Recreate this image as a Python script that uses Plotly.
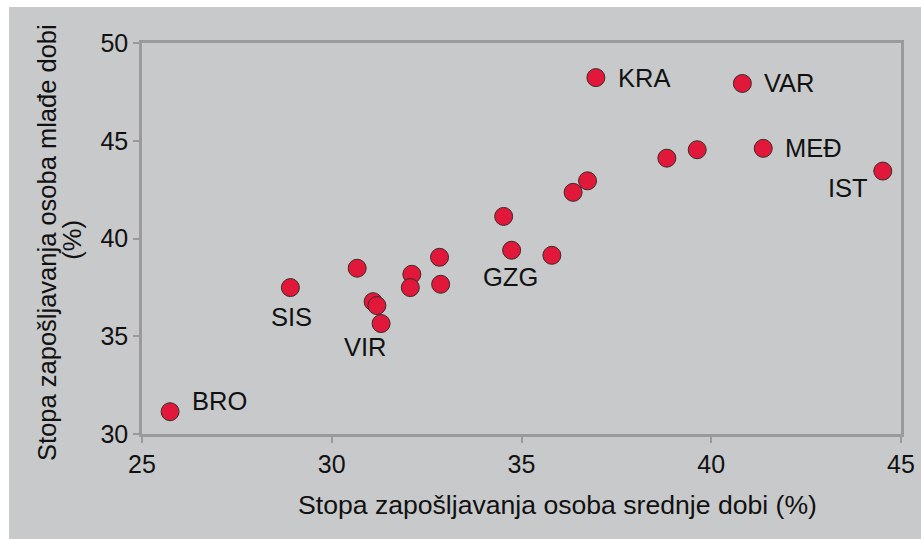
import plotly.graph_objects as go

# Data: (middle-age employment rate, youth employment rate)
x_vals = [25.74, 28.91, 30.67, 31.09, 31.19, 31.30, 32.11, 32.07, 32.84, 32.87,
          34.53, 34.74, 35.80, 36.36, 36.74, 36.96, 38.83, 39.63, 40.82, 41.37, 44.52]
y_vals = [31.14, 37.49, 38.48, 36.77, 36.57, 35.65, 38.17, 37.49, 39.04, 37.66,
          41.13, 39.40, 39.14, 42.36, 42.95, 48.23, 44.11, 44.54, 47.93, 44.61, 43.45]
labels = ["BRO", "SIS", "", "", "", "VIR", "", "", "", "",
          "", "GZG", "", "", "", "KRA", "", "", "VAR", "MEĐ", "IST"]

x_ticks = [25, 30, 35, 40, 45]
y_ticks = [30, 35, 40, 45, 50]
x_title = "Stopa zapošljavanja osoba srednje dobi (%)"
y_title_1 = "Stopa zapošljavanja osoba mlađe dobi"
y_title_2 = "(%)"

BG = "#C8C9CB"
AXC = "#9A9A9A"
FONT = "Liberation Sans, Arial, sans-serif"
TXT = "#111111"

W, H = 918, 532
L, R, T, B = 133, 18.6, 36, 105
PW, PH = W - L - R, H - T - B


def fx(p):
    return (p - L) / PW


def fy(p):
    return (H - B - p) / PH


fig = go.Figure()
fig.add_trace(go.Scatter(
    x=x_vals, y=y_vals, mode="markers",
    marker=dict(size=18, color="#E2183A", line=dict(color="#3A2A2A", width=1)),
    hoverinfo="x+y", showlegend=False,
))

# label placement styles: (xanchor, yanchor, xshift, yshift)
place = {
    "BRO": ("left", "middle", 20, 11),
    "SIS": ("center", "top", 1, -13),
    "VIR": ("center", "top", -16, -7),
    "GZG": ("center", "top", -1, -11),
    "KRA": ("left", "middle", 20, 0),
    "VAR": ("left", "middle", 20, 0),
    "MEĐ": ("left", "middle", 20, 0),
    "IST": ("right", "top", -13, -1),
}
for xv, yv, lab in zip(x_vals, y_vals, labels):
    if not lab:
        continue
    xa, ya, xs, ys = place[lab]
    fig.add_annotation(x=xv, y=yv, text=lab, showarrow=False,
                       xanchor=xa, yanchor=ya, xshift=xs, yshift=ys,
                       font=dict(size=25.5, color=TXT, family=FONT))

# axis titles
fig.add_annotation(xref="paper", yref="paper", x=fx(553), y=fy(498), text=x_title,
                   showarrow=False, xanchor="center", yanchor="middle",
                   font=dict(size=26.6, color=TXT, family=FONT))
fig.add_annotation(xref="paper", yref="paper", x=fx(37), y=fy(235), text=y_title_1,
                   showarrow=False, xanchor="center", yanchor="middle", textangle=-90,
                   font=dict(size=25.5, color=TXT, family=FONT))
fig.add_annotation(xref="paper", yref="paper", x=fx(62), y=fy(233), text=y_title_2,
                   showarrow=False, xanchor="center", yanchor="middle", textangle=-90,
                   font=dict(size=25.5, color=TXT, family=FONT))

axis_common = dict(
    showgrid=False, zeroline=False, showline=True, linecolor=AXC, linewidth=2.5,
    mirror=True, ticks="outside", ticklen=6, tickcolor=AXC, tickwidth=2,
    tickfont=dict(size=25, color=TXT, family=FONT),
)
fig.update_xaxes(range=[25, 45], tickvals=x_ticks, ticktext=[str(t) for t in x_ticks],
                 **axis_common)
fig.update_yaxes(range=[30, 50], tickvals=y_ticks, ticktext=[str(t) for t in y_ticks],
                 **axis_common)

fig.update_layout(
    width=W, height=H, autosize=False,
    margin=dict(l=L, r=R, t=T, b=B, pad=0),
    paper_bgcolor=BG, plot_bgcolor=BG,
    font=dict(family=FONT, color=TXT),
)

fig.write_html(
    "out.html",
    post_script="document.body.style.margin='7px 0 0 9px';"
                "document.body.style.overflow='hidden';"
                "document.documentElement.style.overflow='hidden';"
                "document.body.style.background='white';",
)
